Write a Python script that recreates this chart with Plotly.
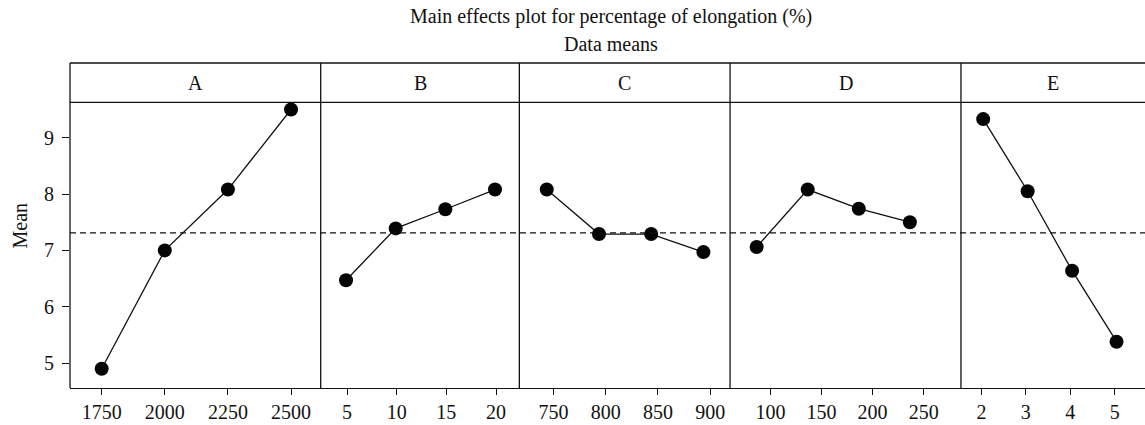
import plotly.graph_objects as go

# Factor names and their levels
factors = ["A", "B", "C", "D", "E"]
levels_A = ["1750", "2000", "2250", "2500"]
levels_B = ["5", "10", "15", "20"]
levels_C = ["750", "800", "850", "900"]
levels_D = ["100", "150", "200", "250"]
levels_E = ["2", "3", "4", "5"]

# Mean percentage of elongation at each level
mean_A = [4.90, 7.00, 8.08, 9.50]
mean_B = [6.47, 7.39, 7.73, 8.08]
mean_C = [8.08, 7.29, 7.29, 6.97]
mean_D = [7.06, 8.08, 7.74, 7.50]
mean_E = [9.33, 8.05, 6.64, 5.38]

grand_mean = 7.31

y_ticks = [5, 6, 7, 8, 9]

levels = [levels_A, levels_B, levels_C, levels_D, levels_E]
means = [mean_A, mean_B, mean_C, mean_D, mean_E]

# Layout of the panel row (paper fractions) and per-panel axis styling
edges = [0.0, 0.2332, 0.4180, 0.6140, 0.8288, 1.0]
x_ranges = [(-0.502, 3.47), (-0.51, 3.49), (-0.525, 3.51), (-0.52, 4.0), (-0.5, 3.64)]
tick_shift = [0.0, 0.02, 0.13, 0.27, -0.04]

W, H = 1145, 425
M_L, M_R, M_T, M_B = 70, 0, 63, 37
plot_h = H - M_T - M_B
strip_px = 39.3
y_top = 1 - strip_px / plot_h

FONT = "Liberation Serif"
INK = "#111111"
FS = 20

fig = go.Figure()

for i, (lv, mv) in enumerate(zip(levels, means)):
    ax = "x" if i == 0 else f"x{i + 1}"
    idx = list(range(len(lv)))
    fig.add_trace(go.Scatter(
        x=idx, y=mv, xaxis=ax, yaxis="y",
        mode="lines+markers",
        line=dict(color=INK, width=1.3),
        marker=dict(color="#050505", size=14),
        showlegend=False, hoverinfo="x+y",
    ))
    key = "xaxis" if i == 0 else f"xaxis{i + 1}"
    fig.layout[key] = dict(
        domain=[edges[i], edges[i + 1]],
        anchor="y",
        range=list(x_ranges[i]),
        tickmode="array",
        tickvals=[k + tick_shift[i] for k in idx],
        ticktext=lv,
        ticks="outside", ticklen=6, tickwidth=1.2, tickcolor=INK,
        showline=True, linecolor=INK, linewidth=1.3,
        showgrid=False, zeroline=False,
        tickfont=dict(family=FONT, size=FS, color=INK),
        fixedrange=True,
    )

fig.update_layout(
    width=W, height=H,
    margin=dict(l=M_L, r=M_R, t=M_T, b=M_B, pad=0),
    paper_bgcolor="white", plot_bgcolor="white",
    font=dict(family=FONT, size=FS, color=INK),
    yaxis=dict(
        domain=[0, y_top],
        anchor="x",
        range=[4.558, 9.628],
        tickmode="array", tickvals=y_ticks,
        ticks="outside", ticklen=7, tickwidth=1.2, tickcolor=INK,
        ticklabelstandoff=4,
        showline=False, showgrid=False, zeroline=False,
        tickfont=dict(family=FONT, size=FS, color=INK),
        fixedrange=True,
    ),
)

shapes = []
# frame: left edge, panel dividers, strip lines
for e in edges[:-1]:
    shapes.append(dict(type="line", xref="paper", yref="paper",
                       x0=e, x1=e, y0=0, y1=1,
                       line=dict(color=INK, width=1.3)))
for yy in (y_top, 1.0):
    shapes.append(dict(type="line", xref="paper", yref="paper",
                       x0=0, x1=1, y0=yy, y1=yy,
                       line=dict(color=INK, width=1.3)))
# grand mean reference line
shapes.append(dict(type="line", xref="paper", yref="y",
                   x0=0, x1=1, y0=grand_mean, y1=grand_mean,
                   line=dict(color=INK, width=1.3, dash="6px,4px")))
fig.update_layout(shapes=shapes)

annotations = []
for i, name in enumerate(factors):
    annotations.append(dict(
        text=name, xref="paper", yref="paper",
        x=(edges[i] + edges[i + 1]) / 2, y=(y_top + 1) / 2,
        xanchor="center", yanchor="middle", showarrow=False,
        font=dict(family=FONT, size=FS, color=INK),
    ))
annotations.append(dict(
    text="Mean", xref="paper", yref="paper",
    x=-51 / (W - M_L - M_R), y=0.5, textangle=-90,
    xanchor="center", yanchor="middle", showarrow=False,
    font=dict(family=FONT, size=FS, color=INK),
))
title_x = (611 - M_L) / (W - M_L - M_R)
annotations.append(dict(
    text="Main effects plot for percentage of elongation (%)",
    xref="paper", yref="paper",
    x=title_x, y=1 + (M_T - 4) / plot_h,
    xanchor="center", yanchor="top", showarrow=False,
    borderpad=0,
    font=dict(family=FONT, size=FS, color=INK),
))
annotations.append(dict(
    text="Data means",
    xref="paper", yref="paper",
    x=title_x, y=1 + 7 / plot_h,
    xanchor="center", yanchor="bottom", showarrow=False,
    borderpad=0,
    font=dict(family=FONT, size=FS, color=INK),
))
fig.update_layout(annotations=annotations)

fig.write_html("out.html")
